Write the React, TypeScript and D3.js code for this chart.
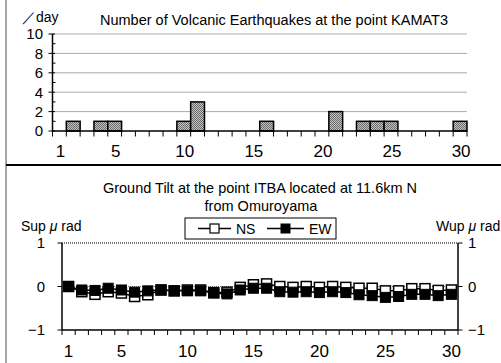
import React from "react";
import * as d3 from "d3";

const days = [1,2,3,4,5,6,7,8,9,10,11,12,13,14,15,16,17,18,19,20,21,22,23,24,25,26,27,28,29,30];
const quakes = [0,1,0,1,1,0,0,0,0,1,3,0,0,0,0,1,0,0,0,0,2,0,1,1,1,0,0,0,0,1];
const tiltNS = [0,-0.12,-0.18,-0.12,-0.15,-0.23,-0.19,-0.08,-0.1,-0.08,-0.08,-0.14,-0.13,-0.02,0.04,0.06,0,-0.02,0,-0.02,0,-0.02,-0.04,-0.04,-0.1,-0.1,-0.05,-0.05,-0.09,-0.08];
const tiltEW = [0,-0.08,-0.09,-0.04,-0.08,-0.13,-0.1,-0.08,-0.1,-0.1,-0.1,-0.15,-0.17,-0.08,-0.04,-0.04,-0.12,-0.13,-0.12,-0.14,-0.12,-0.14,-0.19,-0.21,-0.25,-0.23,-0.18,-0.18,-0.21,-0.18];
const xTickLabels = [1,5,10,15,20,25,30];
const quakeTicks = [0,2,4,6,8,10];
const quakeMinor = [1,3,5,7,9];
const tiltTicks = [1,0,-1];

const FONT = "'Liberation Sans', Arial, sans-serif";

export default function App() {
  // top chart
  const x1 = d3.scaleBand<number>().domain(days).range([52.5, 467]).padding(0);
  const y1 = d3.scaleLinear().domain([0, 10]).range([131, 34]);
  // bottom chart
  const x2 = d3.scaleBand<number>().domain(days).range([62, 458]).padding(0);
  const y2 = d3.scaleLinear().domain([-1, 1]).range([330, 243]);
  const cx2 = (d: number) => (x2(d) as number) + x2.bandwidth() / 2;
  const lineNS = d3.line<number>().x((_, i) => cx2(days[i])).y((v) => y2(v));
  const lineEW = d3.line<number>().x((_, i) => cx2(days[i])).y((v) => y2(v));
  const ms = 10;
  const boundaries1 = d3.range(days.length + 1).map((i) => 52.5 + i * x1.bandwidth());
  const boundaries2 = d3.range(days.length + 1).map((i) => 62 + i * x2.bandwidth());
  const fmt = (t: number) => (t < 0 ? "\u2212" + Math.abs(t) : String(t));

  return (
    <div style={{ position: "absolute", left: 0, top: 0 }}>
      <svg width={501} height={363} style={{ display: "block", background: "#fff" }} fontFamily={FONT}>
        <defs>
          <pattern id="dots" width={2} height={2} patternUnits="userSpaceOnUse">
            <rect width={2} height={2} fill="#c4c4c4" />
            <rect x={0} y={0} width={1} height={1} fill="#6a6a6a" />
            <rect x={1} y={1} width={1} height={1} fill="#6a6a6a" />
          </pattern>
        </defs>
        {/* frame */}
        <line x1={6} x2={6} y1={0} y2={363} stroke="#888" strokeWidth={1.5} />
        <line x1={6} x2={501} y1={165} y2={165} stroke="#000" strokeWidth={2} />

        {/* ---------- top chart ---------- */}
        <text x={22} y={22} fontSize={14}>／day</text>
        <text x={274} y={25} fontSize={14} textAnchor="middle" textLength={348} lengthAdjust="spacingAndGlyphs">
          Number of Volcanic Earthquakes at the point KAMAT3
        </text>
        {quakeTicks.filter((t) => t > 0).map((t) => (
          <line key={"g" + t} x1={52.5} x2={467} y1={y1(t)} y2={y1(t)} stroke="#555" strokeWidth={1} strokeDasharray="1,1" />
        ))}
        {days.map((d, i) =>
          quakes[i] > 0 ? (
            <rect key={"b" + d} x={x1(d)} y={y1(quakes[i])} width={x1.bandwidth()} height={y1(0) - y1(quakes[i])}
              fill="url(#dots)" stroke="#000" strokeWidth={1.5} />
          ) : null
        )}
        <line x1={52.5} x2={52.5} y1={34} y2={131} stroke="#000" strokeWidth={1.5} />
        <line x1={52.5} x2={467} y1={131} y2={131} stroke="#000" strokeWidth={1.5} />
        {quakeTicks.map((t) => (
          <g key={"yt" + t}>
            <line x1={48.5} x2={55} y1={y1(t)} y2={y1(t)} stroke="#000" strokeWidth={1} />
            <text x={43} y={y1(t)} dy="0.36em" fontSize={15} textAnchor="end">{t}</text>
          </g>
        ))}
        {quakeMinor.map((t) => (
          <line key={"ym" + t} x1={52.5} x2={55.5} y1={y1(t)} y2={y1(t)} stroke="#000" strokeWidth={1} />
        ))}
        {boundaries1.map((b, i) => (
          <line key={"xt" + i} x1={b} x2={b} y1={131} y2={136.5} stroke="#000" strokeWidth={1} />
        ))}
        {xTickLabels.map((t) => (
          <text key={"xl" + t} x={(x1(t) as number) + x1.bandwidth() / 2 + 1} y={157} fontSize={17} textAnchor="middle">{t}</text>
        ))}

        {/* ---------- bottom chart ---------- */}
        <text x={260} y={193} fontSize={14.5} textAnchor="middle">Ground Tilt at the point ITBA located at 11.6km N</text>
        <text x={261} y={211} fontSize={14.5} textAnchor="middle">from Omuroyama</text>
        <text x={21} y={231} fontSize={14}>Sup <tspan fontStyle="italic">μ</tspan> rad</text>
        <text x={436} y={231} fontSize={14}>Wup <tspan fontStyle="italic">μ</tspan> rad</text>

        <line x1={62} x2={458} y1={y2(1)} y2={y2(1)} stroke="#777" strokeWidth={2} strokeDasharray="1,1" />
        <line x1={62} x2={458} y1={y2(0)} y2={y2(0)} stroke="#777" strokeWidth={1} strokeDasharray="1,1" />

        {/* legend */}
        <rect x={185} y={218} width={151} height={21} fill="#fff" stroke="#000" strokeWidth={1} />
        <line x1={198} x2={231} y1={228.5} y2={228.5} stroke="#000" strokeWidth={1.5} />
        <rect x={210} y={224} width={9} height={9} fill="#fff" stroke="#000" strokeWidth={1.2} />
        <text x={236} y={233.5} fontSize={14}>NS</text>
        <line x1={267} x2={304} y1={228.5} y2={228.5} stroke="#000" strokeWidth={1.5} />
        <rect x={281} y={224} width={9} height={9} fill="#000" stroke="#000" strokeWidth={1} />
        <text x={309} y={233.5} fontSize={14}>EW</text>

        <line x1={62} x2={62} y1={243} y2={330} stroke="#000" strokeWidth={1.5} />
        <line x1={458} x2={458} y1={243} y2={330} stroke="#000" strokeWidth={1.5} />
        <line x1={62} x2={458} y1={330} y2={330} stroke="#000" strokeWidth={1.5} />
        {tiltTicks.map((t) => (
          <g key={"tt" + t}>
            <line x1={57.5} x2={62} y1={y2(t)} y2={y2(t)} stroke="#000" strokeWidth={1} />
            <line x1={458} x2={462.5} y1={y2(t)} y2={y2(t)} stroke="#000" strokeWidth={1} />
            <text x={45} y={y2(t)} dy="0.36em" fontSize={15} textAnchor="end">{fmt(t)}</text>
            <text x={468} y={y2(t)} dy="0.36em" fontSize={15} textAnchor="start">{fmt(t)}</text>
          </g>
        ))}
        {boundaries2.map((b, i) => (
          <line key={"bx" + i} x1={b} x2={b} y1={330} y2={335} stroke="#000" strokeWidth={1} />
        ))}
        {xTickLabels.map((t) => (
          <text key={"bl" + t} x={cx2(t)} y={357} fontSize={17} textAnchor="middle">{t}</text>
        ))}

        <path d={lineNS(tiltNS) || ""} fill="none" stroke="#000" strokeWidth={1.5} />
        {days.map((d, i) => (
          <rect key={"ns" + d} x={cx2(d) - ms / 2} y={y2(tiltNS[i]) - ms / 2} width={ms} height={ms}
            fill="#fff" stroke="#000" strokeWidth={1.5} />
        ))}
        <path d={lineEW(tiltEW) || ""} fill="none" stroke="#000" strokeWidth={1.5} />
        {days.map((d, i) => (
          <rect key={"ew" + d} x={cx2(d) - ms / 2} y={y2(tiltEW[i]) - ms / 2} width={ms} height={ms}
            fill="#000" stroke="#000" strokeWidth={1} />
        ))}
      </svg>
    </div>
  );
}
